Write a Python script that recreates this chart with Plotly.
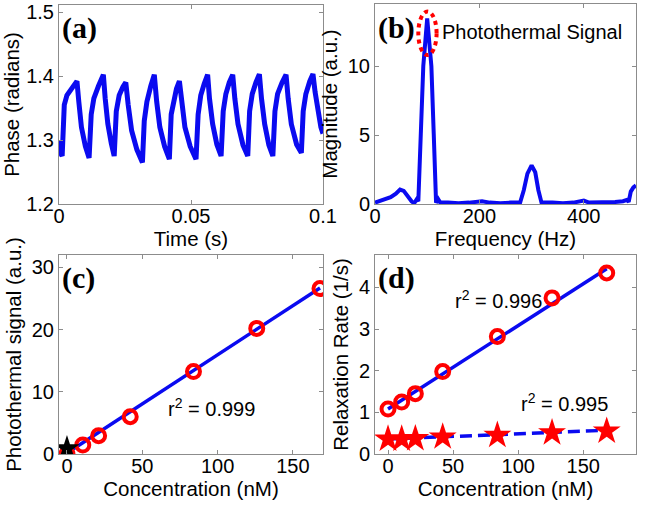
import plotly.graph_objects as go

# ---------------- data ----------------
# (a) phase vs time
time_s = [0.0000, 0.0005, 0.0012, 0.0020, 0.0030, 0.0045, 0.0068, 0.0075, 0.0085, 0.0100,
          0.0114, 0.0122, 0.0132, 0.0150, 0.0168, 0.0175, 0.0185, 0.0198,
          0.0209, 0.0217, 0.0228, 0.0242, 0.0253, 0.0262, 0.0275, 0.0295,
          0.0316, 0.0323, 0.0333, 0.0348, 0.0361, 0.0370, 0.0382, 0.0400,
          0.0418, 0.0425, 0.0435, 0.0445, 0.0456, 0.0465, 0.0477, 0.0497,
          0.0519, 0.0527, 0.0537, 0.0550, 0.0563, 0.0570, 0.0582, 0.0598,
          0.0614, 0.0622, 0.0632, 0.0645, 0.0658, 0.0666, 0.0678, 0.0697,
          0.0715, 0.0722, 0.0732, 0.0746, 0.0759, 0.0767, 0.0779, 0.0795,
          0.0810, 0.0818, 0.0828, 0.0845, 0.0860, 0.0868, 0.0880, 0.0900,
          0.0918, 0.0925, 0.0935, 0.0950, 0.0962, 0.0970, 0.0980, 0.0992, 0.1000]
phase_rad = [1.300, 1.280, 1.275, 1.355, 1.370, 1.380, 1.392, 1.360, 1.320, 1.290,
             1.272, 1.340, 1.365, 1.385, 1.402, 1.365, 1.325, 1.295,
             1.275, 1.345, 1.370, 1.383, 1.390, 1.355, 1.315, 1.285,
             1.265, 1.330, 1.360, 1.385, 1.402, 1.360, 1.320, 1.290,
             1.270, 1.340, 1.365, 1.380, 1.392, 1.355, 1.320, 1.290,
             1.270, 1.340, 1.370, 1.388, 1.402, 1.365, 1.325, 1.293,
             1.275, 1.345, 1.372, 1.390, 1.402, 1.365, 1.325, 1.292,
             1.275, 1.345, 1.372, 1.390, 1.403, 1.365, 1.325, 1.292,
             1.275, 1.345, 1.372, 1.390, 1.402, 1.365, 1.325, 1.293,
             1.280, 1.345, 1.372, 1.392, 1.403, 1.375, 1.345, 1.320, 1.310]

# (b) spectrum
freq_hz = [0, 10, 20, 30, 40, 48, 55, 63, 70, 75, 80, 83,
           87.5, 92.5, 100, 108, 112.5, 117, 121, 125,
           140, 160, 180, 200, 205, 220, 240, 260, 278, 285, 292, 300, 307, 313, 319,
           340, 360, 380, 395, 400, 410, 440, 460, 475, 483, 486, 490, 495, 500]
magnitude = [0.1, 0.25, 0.4, 0.5, 0.75, 1.05, 0.95, 0.5, 0.2, 0.05, 0.35, 0.2,
             5.1, 10.0, 13.45, 10.0, 5.1, 0.1, 0.35, 0.1,
             0.1, 0.05, 0.1, 0.15, 0.2, 0.1, 0.05, 0.1, 0.1, 1.0, 2.2, 2.8, 2.3, 1.0, 0.1,
             0.1, 0.05, 0.1, 0.2, 0.25, 0.1, 0.1, 0.15, 0.2, 0.3, 0.15, 0.9, 1.2, 1.35]

# (c) photothermal signal vs concentration
conc_nM = [0, 10.5, 21, 42, 84, 126, 168]
pt_signal = [0.0, 1.45, 2.95, 6.0, 13.25, 20.2, 26.6]
control_x = [0]
control_y = [0.9]
fit_c_x = [0, 168]
fit_c_y = [0.15, 26.7]

# (d) relaxation rates vs concentration
rate_circ = [1.08, 1.25, 1.45, 1.98, 2.82, 3.75, 4.35]
rate_star = [0.36, 0.36, 0.37, 0.41, 0.45, 0.51, 0.55]
fit_d1_x = [0, 168]
fit_d1_y = [1.08, 4.45]
fit_d2_x = [0, 168]
fit_d2_y = [0.36, 0.57]

# ---------------- style ----------------
BLUE = "#0a0af0"
RED = "#ff0000"
AX = "#8c8c8c"
FONT = "Liberation Sans, Arial, sans-serif"
FS = 20
FT = 20.5

fig = go.Figure()

fig.add_trace(go.Scatter(x=time_s, y=phase_rad, mode="lines",
                         line=dict(color=BLUE, width=5), xaxis="x", yaxis="y"))
fig.add_trace(go.Scatter(x=freq_hz, y=magnitude, mode="lines",
                         line=dict(color=BLUE, width=4), xaxis="x2", yaxis="y2"))
fig.add_trace(go.Scatter(x=fit_c_x, y=fit_c_y, mode="lines",
                         line=dict(color=BLUE, width=3.5), xaxis="x3", yaxis="y3"))
fig.add_trace(go.Scatter(x=conc_nM, y=pt_signal, mode="markers",
                         marker=dict(symbol="circle-open", size=13, color=RED, line=dict(width=4, color=RED)),
                         xaxis="x3", yaxis="y3"))
fig.add_trace(go.Scatter(x=control_x, y=control_y, mode="markers",
                         marker=dict(symbol="star", size=19, color="black"),
                         xaxis="x3", yaxis="y3"))
fig.add_trace(go.Scatter(x=fit_d1_x, y=fit_d1_y, mode="lines",
                         line=dict(color=BLUE, width=3.5), xaxis="x4", yaxis="y4"))
fig.add_trace(go.Scatter(x=fit_d2_x, y=fit_d2_y, mode="lines",
                         line=dict(color=BLUE, width=3.5, dash="12px,6px"), xaxis="x4", yaxis="y4"))
fig.add_trace(go.Scatter(x=conc_nM, y=rate_circ, mode="markers",
                         marker=dict(symbol="circle-open", size=13, color=RED, line=dict(width=4, color=RED)),
                         xaxis="x4", yaxis="y4"))
fig.add_trace(go.Scatter(x=conc_nM, y=rate_star, mode="markers",
                         marker=dict(symbol="star", size=21, color=RED),
                         xaxis="x4", yaxis="y4"))


def ax(domain, rng, title, anchor, tickvals, ticktext=None, is_x=True):
    d = dict(domain=domain, range=rng, anchor=anchor, automargin=False,
             showline=True, linecolor=AX, linewidth=1, mirror="ticks",
             ticks="inside", ticklen=4, tickcolor=AX, tickwidth=1,
             showgrid=False, zeroline=False,
             tickvals=tickvals,
             tickfont=dict(family=FONT, size=FS, color="black"),
             title=dict(text=title, font=dict(family=FONT, size=FT, color="black"),
                        standoff=1 if is_x else 4))
    if is_x:
        d["ticklabelstandoff"] = -6
    if ticktext is not None:
        d["ticktext"] = ticktext
    return d


W, H = 645, 505
xa = [59 / W, 323 / W]
xb = [375 / W, 636 / W]
ytop = [1 - 204 / H, 1 - 5 / H]
ybot = [1 - 454 / H, 1 - 255 / H]

fig.update_layout(
    width=W, height=H, margin=dict(l=0, r=0, t=0, b=0, autoexpand=False),
    paper_bgcolor="white", plot_bgcolor="white", showlegend=False,
    xaxis=ax(xa, [0, 0.1], "Time (s)", "y", [0, 0.05, 0.1], ["0", "0.05", "0.1"]),
    yaxis=ax(ytop, [1.2, 1.511], "Phase (radians)", "x", [1.2, 1.3, 1.4, 1.5], ["1.2", "1.3", "1.4", "1.5"], is_x=False),
    xaxis2=ax(xb, [0, 500], "Frequency (Hz)", "y2", [0, 200, 400]),
    yaxis2=ax([1 - 204 / H, 1 - 4 / H], [0, 14.5], "Magnitude (a.u.)", "x2", [0, 5, 10], is_x=False),
    xaxis3=ax(xa, [-5.3, 170], "Concentration (nM)", "y3", [0, 50, 100, 150]),
    yaxis3=ax(ybot, [0, 32], "Photothermal signal (a.u.)", "x3", [0, 10, 20, 30], is_x=False),
    xaxis4=ax(xb, [-10, 190.5], "Concentration (nM)", "y4", [0, 50, 100, 150]),
    yaxis4=ax(ybot, [0, 4.78], "Relaxation Rate (1/s)", "x4", [0, 1, 2, 3, 4], is_x=False),
)

# red dotted ellipse around the peak
fig.add_shape(type="circle", xref="x2", yref="y2", x0=83, x1=118, y0=10.8, y1=13.95,
              line=dict(color=RED, width=4, dash="dot"))

panel_font = dict(family="Liberation Serif, Times New Roman, serif", size=30, color="black")
for txt, x, y in [("<b>(a)</b>", 60, 28), ("<b>(b)</b>", 376, 28), ("<b>(c)</b>", 60, 278), ("<b>(d)</b>", 376, 278)]:
    fig.add_annotation(text=txt, xref="paper", yref="paper", x=x / W, y=1 - y / H,
                       xanchor="left", yanchor="middle", showarrow=False, font=panel_font)

lab_font = dict(family=FONT, size=FS, color="black")
fig.add_annotation(text="Photothermal Signal", xref="paper", yref="paper", x=440 / W, y=1 - 32 / H,
                   xanchor="left", yanchor="middle", showarrow=False, font=lab_font)
fig.add_annotation(text="r<sup>2</sup> = 0.999", xref="x3", yref="y3", x=66, y=7.5,
                   xanchor="left", yanchor="middle", showarrow=False, font=lab_font)
fig.add_annotation(text="r<sup>2</sup> = 0.996", xref="x4", yref="y4", x=50, y=3.71,
                   xanchor="left", yanchor="middle", showarrow=False, font=lab_font)
fig.add_annotation(text="r<sup>2</sup> = 0.995", xref="x4", yref="y4", x=101, y=1.23,
                   xanchor="left", yanchor="middle", showarrow=False, font=lab_font)

fig.write_html("out.html", config={"displayModeBar": False},
               post_script="document.body.style.margin='0px';document.body.style.overflow='hidden';")
